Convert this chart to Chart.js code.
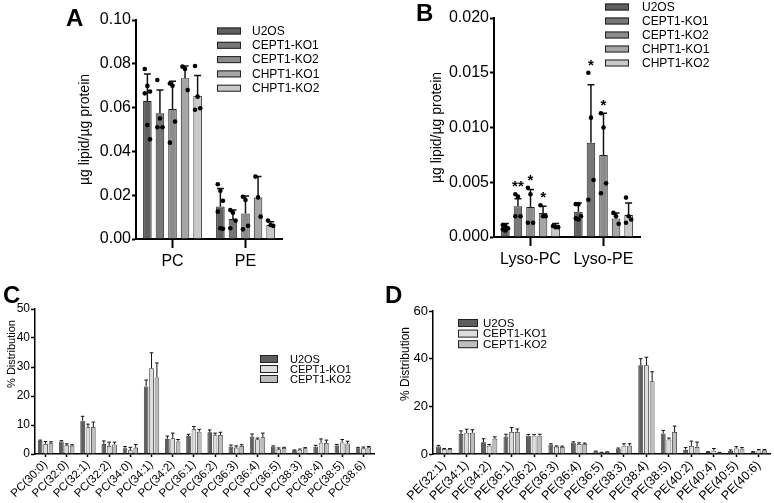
<!DOCTYPE html>
<html>
<head>
<meta charset="utf-8">
<script src="https://cdn.jsdelivr.net/npm/chart.js@4.4.1/dist/chart.umd.min.js"></script>
<style>
  body { margin: 0; background: #fff; }
  #wrap { position: relative; width: 774px; height: 503px; overflow: hidden; font-family: "Liberation Sans", Arial, sans-serif; }
  canvas { position: absolute; }
  .lbl { position: absolute; font-weight: bold; font-size: 24px; line-height: 24px; }
</style>
</head>
<body>
<div id="wrap">
  <canvas id="chartA" width="390" height="280" style="left:0;top:0"></canvas>
  <canvas id="chartB" width="384" height="280" style="left:390px;top:0"></canvas>
  <canvas id="chartC" width="390" height="223" style="left:0;top:280px"></canvas>
  <canvas id="chartD" width="384" height="223" style="left:390px;top:280px"></canvas>
  <div class="lbl" style="left:66px;top:6px">A</div>
  <div class="lbl" style="left:416px;top:1px">B</div>
  <div class="lbl" style="left:3px;top:283px">C</div>
  <div class="lbl" style="left:385px;top:283px">D</div>
</div>
<script>
// ---- data: panels A / B (ug lipid / ug protein) ----
const groupsA = ['PC', 'PE'];
const groupsB = ['Lyso-PC', 'Lyso-PE'];
const linesAB = ['U2OS', 'CEPT1-KO1', 'CEPT1-KO2', 'CHPT1-KO1', 'CHPT1-KO2'];
const colorsAB = ['#606060', '#777777', '#8c8c8c', '#a6a6a6', '#c9c9c9'];

const meanA = [[0.063, 0.0148], [0.0574, 0.0091], [0.0594, 0.0117], [0.0734, 0.019], [0.0654, 0.0064]];
const sdA = [[0.0123, 0.0083], [0.0106, 0.0041], [0.0126, 0.0079], [0.0056, 0.0095], [0.0093, 0.0015]];
const ptsA = [
  [[0.0776, 0.0699, 0.0673, 0.0665, 0.052, 0.0455], [0.025, 0.022, 0.0175, 0.0125, 0.0049, 0.0047]],
  [[0.0726, 0.055, 0.051, 0.051], [0.0132, 0.012, 0.0084, 0.0049]],
  [[0.071, 0.070, 0.0536, 0.044], [0.0193, 0.0178, 0.006, 0.0044]],
  [[0.0787, 0.0776, 0.068], [0.0285, 0.019, 0.0102]],
  [[0.079, 0.065, 0.0597, 0.059], [0.0084, 0.0064, 0.006]]
];

const meanB = [[0.00073, 0.0023], [0.0028, 0.0086], [0.00274, 0.0075], [0.0022, 0.0017], [0.00103, 0.002]];
const sdB = [[0.0005, 0.0008], [0.0007, 0.0053], [0.0016, 0.0038], [0.0006, 0.0005], [0.0002, 0.0011]];
const ptsB = [
  [[0.0011, 0.001, 0.0008, 0.0007, 0.0006], [0.003, 0.003, 0.0019, 0.0017, 0.0016]],
  [[0.0039, 0.0037, 0.0019, 0.0019], [0.015, 0.0109, 0.0052, 0.0034]],
  [[0.0045, 0.0039, 0.0013, 0.0013], [0.0113, 0.01, 0.0049, 0.004]],
  [[0.0029, 0.0019, 0.0019], [0.0022, 0.0019, 0.0012]],
  [[0.001, 0.0009, 0.0009], [0.0036, 0.0019, 0.0016, 0.0013]]
];
const starsB = [['', ''], ['**', '*'], ['*', '*'], ['*', ''], ['', '']];

// ---- data: panels C / D (% distribution) ----
const linesCD = ['U2OS', 'CEPT1-KO1', 'CEPT1-KO2'];
const colorsCD = ['#5e5e5e', '#dedede', '#bdbdbd'];

const speciesC = ['PC(30:0)', 'PC(32:0)', 'PC(32:1)', 'PC(32:2)', 'PC(34:0)', 'PC(34:1)', 'PC(34:2)', 'PC(36:1)',
  'PC(36:2)', 'PC(36:3)', 'PC(36:4)', 'PC(36:5)', 'PC(38:3)', 'PC(38:4)', 'PC(38:5)', 'PC(38:6)'];
const meanC = [
  [4.5, 4.3, 11.5, 3.5, 2.0, 23.3, 5.2, 6.2, 7.5, 2.5, 6.0, 2.5, 1.3, 2.5, 2.9, 2.0],
  [3.5, 3.0, 9.2, 2.8, 1.3, 29.6, 5.4, 8.5, 6.5, 2.2, 5.1, 1.6, 1.5, 3.9, 4.0, 2.0],
  [3.7, 2.9, 9.3, 3.3, 2.2, 26.4, 4.3, 7.7, 6.6, 2.8, 5.8, 2.1, 2.0, 3.8, 3.6, 2.3]
];
const sdC = [
  [0.3, 0.3, 1.5, 1.0, 0.6, 2.2, 1.0, 0.6, 0.8, 0.6, 0.9, 0.3, 0.1, 0.5, 0.4, 0.3],
  [0.8, 0.5, 1.1, 1.3, 1.0, 5.3, 1.8, 1.0, 0.7, 0.6, 0.4, 0.5, 0.2, 1.3, 1.0, 0.4],
  [0.5, 0.3, 1.7, 0.8, 1.1, 5.0, 0.7, 0.8, 0.9, 0.4, 1.4, 0.2, 0.2, 1.0, 0.8, 0.3]
];

const speciesD = ['PE(32:1)', 'PE(34:1)', 'PE(34:2)', 'PE(36:1)', 'PE(36:2)', 'PE(36:3)', 'PE(36:4)', 'PE(36:5)',
  'PE(38:3)', 'PE(38:4)', 'PE(38:5)', 'PE(40:2)', 'PE(40:4)', 'PE(40:5)', 'PE(40:6)'];
const meanD = [
  [3.1, 8.4, 4.9, 7.3, 7.7, 4.0, 4.7, 1.0, 2.2, 37.2, 8.6, 1.7, 0.8, 1.3, 0.8],
  [2.1, 8.9, 3.5, 9.3, 7.7, 3.1, 4.2, 0.6, 3.5, 37.2, 6.1, 3.4, 1.4, 2.3, 1.5],
  [2.1, 8.9, 6.4, 9.3, 7.7, 3.0, 4.2, 0.8, 3.5, 30.5, 9.2, 3.0, 0.6, 2.2, 1.6]
];
const sdD = [
  [0.5, 1.3, 1.5, 1.0, 0.5, 0.3, 0.4, 0.2, 0.3, 2.8, 1.3, 1.0, 0.2, 0.4, 0.2],
  [0.2, 1.5, 0.5, 1.8, 0.5, 0.3, 0.5, 0.1, 0.8, 3.4, 0.6, 2.0, 0.9, 0.8, 0.4],
  [0.2, 1.3, 0.8, 1.2, 0.6, 0.3, 0.4, 0.1, 0.8, 4.0, 2.5, 2.0, 0.1, 0.5, 0.3]
];

Chart.defaults.font.family = '"Liberation Sans", Arial, sans-serif';
Chart.defaults.color = '#000';
Chart.defaults.animation = false;

// error bars, dots and stars on top of the bars
const overlay = {
  id: 'overlay',
  afterDatasetsDraw(chart, args, o) {
    const ctx = chart.ctx, y = chart.scales.y;
    ctx.save();
    chart.data.datasets.forEach((ds, di) => {
      const meta = chart.getDatasetMeta(di);
      meta.data.forEach((bar, i) => {
        const top = y.getPixelForValue(ds.data[i] + ds.err[i]);
        ctx.strokeStyle = '#111';
        ctx.lineWidth = o.lw;
        ctx.beginPath();
        ctx.moveTo(bar.x, bar.y);
        ctx.lineTo(bar.x, top);
        ctx.moveTo(bar.x - o.cap, top);
        ctx.lineTo(bar.x + o.cap, top);
        ctx.stroke();
        if (ds.pts) {
          ctx.fillStyle = '#000';
          ds.pts[i].forEach((p, k) => {
            const dx = ((k % 3) - 1) * 2.6;
            ctx.beginPath();
            ctx.arc(bar.x + dx, y.getPixelForValue(p), 2.3, 0, Math.PI * 2);
            ctx.fill();
          });
        }
        if (ds.stars && ds.stars[i]) {
          const mx = Math.max(...ds.pts[i], ds.data[i] + ds.err[i]);
          ctx.fillStyle = '#000';
          ctx.font = 'bold 15px "Liberation Sans", Arial, sans-serif';
          ctx.textAlign = 'center';
          ctx.textBaseline = 'alphabetic';
          ctx.fillText(ds.stars[i], bar.x, y.getPixelForValue(mx) - 3);
        }
      });
    });
    ctx.restore();
  }
};

// hand placed legend + side title like the original figure
const boxLegend = {
  id: 'boxLegend',
  afterDraw(chart, args, o) {
    const ctx = chart.ctx;
    ctx.save();
    ctx.font = o.font + 'px "Liberation Sans", Arial, sans-serif';
    ctx.textBaseline = 'middle';
    ctx.textAlign = 'left';
    chart.data.datasets.forEach((ds, i) => {
      const cy = o.y + i * o.dy;
      ctx.fillStyle = ds.backgroundColor;
      ctx.fillRect(o.x, cy - o.bh / 2, o.bw, o.bh);
      ctx.strokeStyle = '#222';
      ctx.lineWidth = 1;
      ctx.strokeRect(o.x + 0.5, cy - o.bh / 2 + 0.5, o.bw - 1, o.bh - 1);
      ctx.fillStyle = '#000';
      ctx.fillText(ds.label, o.tx, cy + 0.5);
    });
    if (o.title) {
      ctx.translate(o.title.x, o.title.y);
      ctx.rotate(-Math.PI / 2);
      ctx.textAlign = 'center';
      ctx.font = o.title.size + 'px "Liberation Sans", Arial, sans-serif';
      ctx.fillText(o.title.text, 0, 0);
    }
    ctx.restore();
  }
};

function makeChart(id, cfg) {
  const datasets = cfg.names.map((n, i) => ({
    label: n,
    data: cfg.mean[i],
    err: cfg.sd[i],
    pts: cfg.pts ? cfg.pts[i] : null,
    stars: cfg.stars ? cfg.stars[i] : null,
    backgroundColor: cfg.colors[i],
    borderColor: '#222',
    borderWidth: cfg.bw,
    categoryPercentage: cfg.catPct,
    barPercentage: cfg.barPct
  }));
  return new Chart(document.getElementById(id), {
    type: 'bar',
    data: { labels: cfg.labels, datasets: datasets },
    plugins: [overlay, boxLegend],
    options: {
      responsive: false,
      layout: { padding: cfg.pad },
      plugins: {
        legend: { display: false },
        tooltip: { enabled: false },
        overlay: cfg.err,
        boxLegend: cfg.legend
      },
      scales: {
        x: {
          afterFit: s => { s.height = cfg.xH; },
          grid: { offset: false, drawOnChartArea: false, tickLength: cfg.xTick, tickColor: '#000', tickWidth: cfg.axW },
          border: { color: '#000', width: cfg.axW },
          ticks: { font: { size: cfg.xFont }, padding: cfg.xPad, autoSkip: false, minRotation: cfg.rot, maxRotation: cfg.rot }
        },
        y: {
          min: 0, max: cfg.yMax,
          afterFit: s => { s.width = cfg.yW; },
          grid: { drawOnChartArea: false, tickLength: 4, tickColor: '#000', tickWidth: cfg.axW },
          border: { color: '#000', width: cfg.axW },
          ticks: { stepSize: cfg.step, font: { size: cfg.yFont }, padding: 1, callback: v => v.toFixed(cfg.dec) },
          title: { display: !cfg.legend.title, text: cfg.yTitle, font: { size: cfg.titleFont }, padding: 0 }
        }
      }
    }
  });
}

makeChart('chartA', {
  labels: groupsA, names: linesAB, colors: colorsAB, mean: meanA, sd: sdA, pts: ptsA,
  bw: 1, catPct: 0.86, barPct: 0.68, pad: { left: 77, top: 20, right: 108, bottom: 5 },
  xH: 36, xTick: 9, xFont: 16, xPad: 4, rot: 0, axW: 2,
  yMax: 0.1, step: 0.02, dec: 2, yW: 59, yFont: 16, yTitle: 'µg lipid/µg protein', titleFont: 14,
  err: { lw: 1.5, cap: 3.5 },
  legend: { x: 217, tx: 252, y: 31, dy: 14.3, bw: 24, bh: 7, font: 12 }
});

makeChart('chartB', {
  labels: groupsB, names: linesAB, colors: colorsAB, mean: meanB, sd: sdB, pts: ptsB, stars: starsB,
  bw: 1, catPct: 0.86, barPct: 0.68, pad: { left: 39, top: 18, right: 134, bottom: 7 },
  xH: 36, xTick: 9, xFont: 16, xPad: 4, rot: 0, axW: 2,
  yMax: 0.02, step: 0.005, dec: 3, yW: 65, yFont: 16, yTitle: 'µg lipid/µg protein', titleFont: 14,
  err: { lw: 1.5, cap: 3.5 },
  legend: { x: 215, tx: 252, y: 7, dy: 14, bw: 24, bh: 7, font: 12 }
});

makeChart('chartC', {
  labels: speciesC, names: linesCD, colors: colorsCD, mean: meanC, sd: sdC,
  bw: 0.8, catPct: 0.76, barPct: 0.85, pad: { left: 2, top: 29, right: 16, bottom: 0 },
  xH: 49, xTick: 3, xFont: 11.5, xPad: 1, rot: 45, axW: 1.5,
  yMax: 50, step: 10, dec: 0, yW: 33, yFont: 12, yTitle: '% Distribution', titleFont: 10.5,
  err: { lw: 1, cap: 1.8 },
  legend: { x: 260, tx: 290, y: 79, dy: 10, bw: 18, bh: 8, font: 11,
    title: { text: '% Distribution', x: 12, y: 74, size: 11 } }
});

makeChart('chartD', {
  labels: speciesD, names: linesCD, colors: colorsCD, mean: meanD, sd: sdD,
  bw: 0.8, catPct: 0.76, barPct: 0.85, pad: { left: 5, top: 31, right: 4, bottom: 0 },
  xH: 49, xTick: 3, xFont: 12.5, xPad: 1, rot: 45, axW: 1.5,
  yMax: 60, step: 20, dec: 0, yW: 38, yFont: 13, yTitle: '% Distribution', titleFont: 12,
  err: { lw: 1, cap: 1.8 },
  legend: { x: 68, tx: 93, y: 43, dy: 10.6, bw: 20, bh: 8, font: 11.5,
    title: { text: '% Distribution', x: 16, y: 84, size: 12 } }
});
</script>
</body>
</html>
